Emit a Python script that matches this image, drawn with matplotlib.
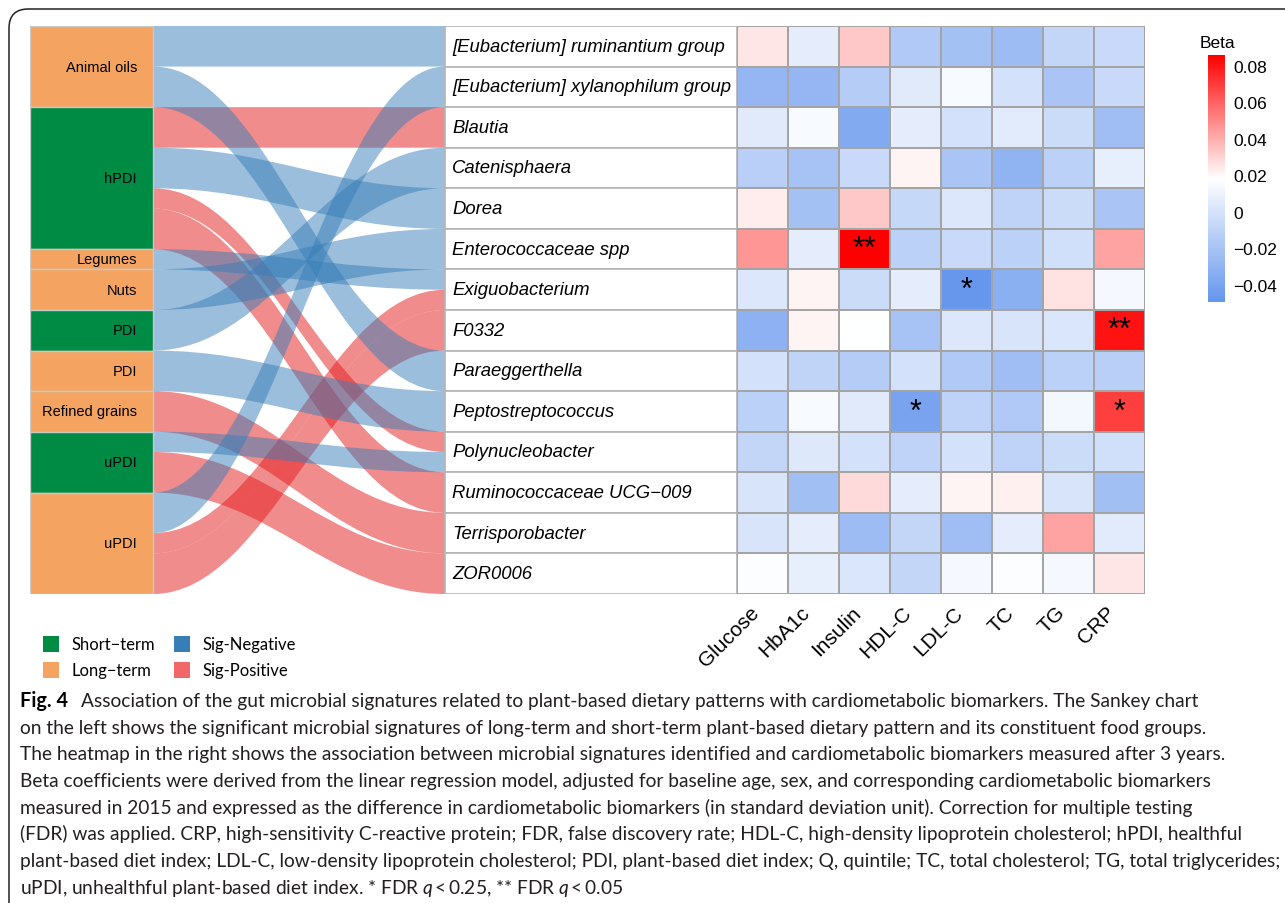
import numpy as np
import matplotlib
matplotlib.use("Agg")
import matplotlib.pyplot as plt
from matplotlib.path import Path
from matplotlib.patches import PathPatch, Rectangle, FancyBboxPatch, Patch
from matplotlib.colors import LinearSegmentedColormap, Normalize
from matplotlib.colorbar import ColorbarBase
from matplotlib import font_manager

W, H = 1285, 904

# ---- data -------------------------------------------------------------
# left strata, top to bottom
diet_nodes = ["Animal oils", "hPDI", "Legumes", "Nuts", "PDI", "PDI",
              "Refined grains", "uPDI", "uPDI"]
diet_term = ["Long", "Short", "Long", "Long", "Short", "Long",
             "Long", "Short", "Long"]

taxa = ["[Eubacterium] ruminantium group", "[Eubacterium] xylanophilum group",
        "Blautia", "Catenisphaera", "Dorea", "Enterococcaceae spp",
        "Exiguobacterium", "F0332", "Paraeggerthella", "Peptostreptococcus",
        "Polynucleobacter", "Ruminococcaceae UCG\u2212009", "Terrisporobacter",
        "ZOR0006"]

biomarkers = ["Glucose", "HbA1c", "Insulin", "HDL-C", "LDL-C", "TC", "TG", "CRP"]

# sankey flows: diet node -> taxon, width, sign of association
flow_src = [0, 0, 1, 1, 1, 1, 2, 3, 4, 5, 6, 7, 7, 8, 8, 8]
flow_dst = [0, 8, 2, 4, 10, 11, 6, 5, 3, 9, 12, 10, 13, 1, 6, 7]
flow_w = [1, 1, 1, 1, 0.5, 1, 0.5, 1, 1, 1, 1, 0.5, 1, 1, 0.5, 1]
flow_sign = ["neg", "neg", "pos", "neg", "pos", "pos", "neg", "neg",
             "neg", "neg", "pos", "neg", "pos", "neg", "pos", "pos"]

# beta coefficients (rows = taxa, cols = biomarkers)
beta = np.array([
    [0.025, 0.007, 0.033, -0.016, -0.021, -0.024, -0.008, -0.006],
    [-0.028, -0.028, -0.014, 0.005, 0.015, -0.001, -0.019, -0.006],
    [0.005, 0.015, -0.036, 0.007, -0.001, 0.006, -0.004, -0.023],
    [-0.012, -0.020, -0.006, 0.021, -0.019, -0.030, -0.011, 0.008],
    [0.023, -0.021, 0.033, -0.007, 0.003, -0.010, -0.004, -0.019],
    [0.046, 0.007, 0.086, -0.011, -0.006, -0.011, -0.002, 0.043],
    [0.003, 0.021, -0.004, 0.007, -0.048, -0.032, 0.026, 0.014],
    [-0.031, 0.021, 0.018, -0.020, 0.003, 0.001, 0.002, 0.081],
    [-0.001, -0.009, -0.014, -0.001, -0.016, -0.023, -0.011, -0.012],
    [-0.011, 0.015, 0.005, -0.040, -0.010, -0.016, 0.013, 0.069],
    [-0.008, 0.004, -0.001, -0.010, -0.001, -0.010, -0.004, -0.002],
    [0.001, -0.022, 0.028, 0.007, 0.021, 0.022, 0.001, -0.022],
    [0.001, 0.007, -0.024, -0.008, -0.023, 0.007, 0.043, 0.006],
    [0.017, 0.008, 0.002, -0.008, 0.014, 0.017, 0.014, 0.025],
])
sig_rows = [5, 6, 7, 9, 9]
sig_cols = [2, 4, 7, 3, 7]
sig_marks = ["**", "*", "**", "*", "*"]

cbar_ticks = [-0.04, -0.02, 0, 0.02, 0.04, 0.06, 0.08]
cbar_labels = ["\u22120.04", "\u22120.02", "0", "0.02", "0.04", "0.06", "0.08"]

caption_lines = [
    "Association of the gut microbial signatures related to plant-based dietary patterns with cardiometabolic biomarkers. The Sankey chart",
    "on the left shows the significant microbial signatures of long-term and short-term plant-based dietary pattern and its constituent food groups.",
    "The heatmap in the right shows the association between microbial signatures identified and cardiometabolic biomarkers measured after 3 years.",
    "Beta coefficients were derived from the linear regression model, adjusted for baseline age, sex, and corresponding cardiometabolic biomarkers",
    "measured in 2015 and expressed as the difference in cardiometabolic biomarkers (in standard deviation unit). Correction for multiple testing",
    "(FDR) was applied. CRP, high-sensitivity C-reactive protein; FDR, false discovery rate; HDL-C, high-density lipoprotein cholesterol; hPDI, healthful",
    "plant-based diet index; LDL-C, low-density lipoprotein cholesterol; PDI, plant-based diet index; Q, quintile; TC, total cholesterol; TG, total triglycerides;",
    "uPDI, unhealthful plant-based diet index. * FDR $q$\u2009<\u20090.25, ** FDR $q$\u2009<\u20090.05",
]

# ---- style ------------------------------------------------------------
GREEN, ORANGE = "#008B45", "#F4A460"
BLUE, RED = "#377EB8", "#E41A1C"
term_col = {"Short": GREEN, "Long": ORANGE}
sign_col = {"neg": BLUE, "pos": RED}

names = {f.name for f in font_manager.fontManager.ttflist}
CAP_FONT = "Liberation Sans Narrow" if "Liberation Sans Narrow" in names else "Lato"
plt.rcParams["font.family"] = ["Liberation Sans", "DejaVu Sans"]
plt.rcParams["mathtext.fontset"] = "custom"
plt.rcParams["mathtext.it"] = CAP_FONT + ":italic"
plt.rcParams["mathtext.rm"] = CAP_FONT

fig = plt.figure(figsize=(W / 100, H / 100), dpi=100)


def fx(px):
    return px / W


def fy(py):
    return 1 - py / H


# journal frame
fig.patches.append(FancyBboxPatch((fx(9), fy(H + 40)), fx(W + 40), (H + 30) / H,
                                  boxstyle="round,pad=0,rounding_size=0.015",
                                  transform=fig.transFigure, fill=False,
                                  ec="#222222", lw=1.1, mutation_aspect=W / H))

# ---- sankey -------------------------------------------------------------
NODE_W, FLOW_W, BOX_W = 123, 292, 292
ax = fig.add_axes([fx(30), fy(595), fx(737 - 30), (595 - 27) / H])
ax.set_xlim(0, NODE_W + FLOW_W + BOX_W)
total = sum(flow_w)
ax.set_ylim(total, 0)
ax.axis("off")

n_nodes = len(diet_nodes)
node_h = [sum(w for s, w in zip(flow_src, flow_w) if s == i) for i in range(n_nodes)]
node_top = np.concatenate([[0], np.cumsum(node_h)[:-1]])

# flow positions at source (ordered by target) and at target (ordered by source)
order_src = sorted(range(len(flow_src)), key=lambda k: (flow_src[k], flow_dst[k]))
src_y = {}
cur = {i: node_top[i] for i in range(n_nodes)}
for k in order_src:
    src_y[k] = cur[flow_src[k]]
    cur[flow_src[k]] += flow_w[k]
order_dst = sorted(range(len(flow_src)), key=lambda k: (flow_dst[k], flow_src[k]))
dst_y = {}
curt = {j: float(j) for j in range(len(taxa))}
for k in order_dst:
    dst_y[k] = curt[flow_dst[k]]
    curt[flow_dst[k]] += flow_w[k]


def band(x0, x1, ya0, ya1, yb0, yb1, kk=0.4):
    c1 = x0 + (x1 - x0) * kk
    c2 = x0 + (x1 - x0) * (1 - kk)
    verts = [(x0, ya0), (c1, ya0), (c2, yb0), (x1, yb0),
             (x1, yb1), (c2, yb1), (c1, ya1), (x0, ya1), (x0, ya0)]
    codes = [Path.MOVETO, Path.CURVE4, Path.CURVE4, Path.CURVE4,
             Path.LINETO, Path.CURVE4, Path.CURVE4, Path.CURVE4, Path.CLOSEPOLY]
    return Path(verts, codes)


x0, x1 = NODE_W, NODE_W + FLOW_W
# red flows first so the blue ones sit on top
for sign in ["pos", "neg"]:
    for k in range(len(flow_src)):
        if flow_sign[k] != sign:
            continue
        p = band(x0, x1, src_y[k], src_y[k] + flow_w[k],
                 dst_y[k], dst_y[k] + flow_w[k])
        ax.add_patch(PathPatch(p, fc=sign_col[sign], ec="none", alpha=0.5, lw=0))

for i in range(n_nodes):
    ax.add_patch(Rectangle((0, node_top[i]), NODE_W, node_h[i],
                           fc=term_col[diet_term[i]], ec="#c8c8c8", lw=1))
    ax.text(NODE_W - 16, node_top[i] + node_h[i] / 2, diet_nodes[i],
            ha="right", va="center", fontsize=10.5, color="black")

for j, t in enumerate(taxa):
    ax.add_patch(Rectangle((x1, j), BOX_W, 1, fc="white", ec="#b4b4b4", lw=1.2))
    ax.text(x1 + 7, j + 0.5, t, ha="left", va="center", fontsize=13.3,
            style="italic", color="black")

# ---- heatmap ------------------------------------------------------------
cmap = LinearSegmentedColormap.from_list("bwr_gg", ["#6495ED", "white", "#FF0000"])
norm = Normalize(vmin=-0.0493, vmax=0.0858)
hax = fig.add_axes([fx(737), fy(595), fx(1145 - 737), (595 - 27) / H])
hax.pcolormesh(np.arange(len(biomarkers) + 1), np.arange(len(taxa) + 1), beta,
               cmap=cmap, norm=norm, edgecolors="#a4a4a4", linewidth=1.2)
hax.set_xlim(0, len(biomarkers))
hax.set_ylim(len(taxa), 0)
for r, c, m in zip(sig_rows, sig_cols, sig_marks):
    hax.text(c + 0.5, r + 0.5, m, ha="center", va="center", fontsize=22)
hax.set_yticks([])
hax.set_xticks(np.arange(len(biomarkers)) + 0.5)
hax.set_xticklabels(biomarkers, rotation=45, ha="right", va="top", fontsize=15)
hax.tick_params(axis="x", length=0, pad=6)
for s in hax.spines.values():
    s.set_visible(False)

# colorbar
cax = fig.add_axes([fx(1208), fy(303), fx(17), (303 - 56) / H])
cb = ColorbarBase(cax, cmap=cmap, norm=norm, ticks=cbar_ticks)
cb.outline.set_visible(False)
cb.ax.set_yticklabels(cbar_labels)
cax.tick_params(length=0, labelsize=12.5, pad=6)
fig.text(fx(1200), fy(48), "Beta", fontsize=12.5, ha="left", va="baseline")

# ---- legend -------------------------------------------------------------
handles = [Patch(fc=GREEN, label="Short\u2212term"),
           Patch(fc=ORANGE, label="Long\u2212term"),
           Patch(fc=BLUE, label="Sig-Negative"),
           Patch(fc="#F0686A", label="Sig-Positive")]
fig.legend(handles=handles, ncol=2, loc="upper left",
           bbox_to_anchor=(fx(36), fy(630)), frameon=False,
           prop={"family": CAP_FONT, "size": 12},
           handlelength=0.95, handleheight=1.1, handletextpad=0.8,
           columnspacing=1.1, labelspacing=0.55, borderaxespad=0)

# ---- caption ------------------------------------------------------------
base0, step = 707, 26.7
CAP_SIZE = 13.8
fig.text(fx(20), fy(base0), "Fig. 4", fontsize=CAP_SIZE + 0.5, weight="bold",
         family=CAP_FONT, va="baseline")
for i, line in enumerate(caption_lines):
    x = 81 if i == 0 else 20
    fig.text(fx(x), fy(base0 + i * step), line, fontsize=CAP_SIZE,
             family=CAP_FONT, va="baseline", color="#231f20")

fig.savefig("out.png", dpi=100)
